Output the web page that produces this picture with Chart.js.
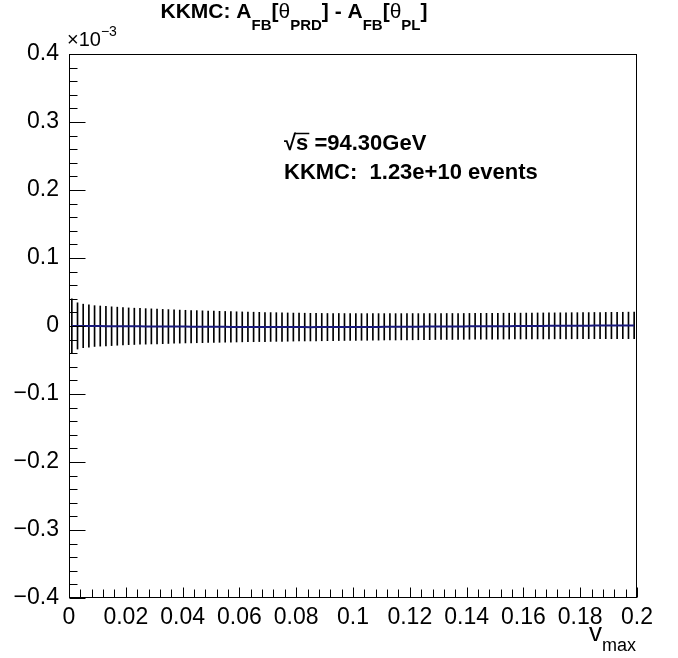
<!DOCTYPE html>
<html>
<head>
<meta charset="utf-8">
<script src="https://cdn.jsdelivr.net/npm/chart.js@4"></script>
<style>
  body { margin: 0; background: #fff; }
</style>
</head>
<body>
<canvas id="afb-chart" width="678" height="658"></canvas>
<script>
/* A_FB[theta_PRD] - A_FB[theta_PL], units of 1e-3 */
const binLow = 0;
const binWidth = 0.002;

const diffValues = [
   0.0000,  0.0001,  0.0001,  0.0000, -0.0001, -0.0001, -0.0002, -0.0003, -0.0003, -0.0004,
  -0.0004, -0.0005, -0.0005, -0.0006, -0.0006, -0.0007, -0.0008, -0.0008, -0.0008, -0.0009,
  -0.0009, -0.0010, -0.0010, -0.0011, -0.0011, -0.0012, -0.0012, -0.0012, -0.0013, -0.0013,
  -0.0013, -0.0014, -0.0014, -0.0014, -0.0015, -0.0015, -0.0015, -0.0016, -0.0016, -0.0016,
  -0.0016, -0.0016, -0.0017, -0.0016, -0.0016, -0.0016, -0.0015, -0.0015, -0.0015, -0.0015,
  -0.0014, -0.0014, -0.0014, -0.0013, -0.0013, -0.0012, -0.0012, -0.0012, -0.0011, -0.0011,
  -0.0010, -0.0010, -0.0009, -0.0009, -0.0008, -0.0008, -0.0007, -0.0007, -0.0006, -0.0006,
  -0.0005, -0.0005, -0.0004, -0.0004, -0.0003, -0.0003, -0.0002, -0.0002, -0.0001, -0.0001,
   0.0000,  0.0000,  0.0001,  0.0001,  0.0002,  0.0002,  0.0003,  0.0003,  0.0004,  0.0004,
   0.0005,  0.0005,  0.0006,  0.0006,  0.0007,  0.0007,  0.0008,  0.0008,  0.0009,  0.0009
];

const diffErrors = [
  0.0400, 0.0340, 0.0320, 0.0310, 0.0300, 0.0295, 0.0290, 0.0285, 0.0280, 0.0275,
  0.0270, 0.0267, 0.0264, 0.0261, 0.0258, 0.0255, 0.0252, 0.0249, 0.0246, 0.0243,
  0.0240, 0.0238, 0.0236, 0.0234, 0.0232, 0.0230, 0.0228, 0.0226, 0.0224, 0.0222,
  0.0220, 0.0218, 0.0217, 0.0215, 0.0214, 0.0212, 0.0211, 0.0209, 0.0208, 0.0206,
  0.0205, 0.0204, 0.0203, 0.0202, 0.0201, 0.0200, 0.0199, 0.0199, 0.0198, 0.0197,
  0.0197, 0.0196, 0.0196, 0.0195, 0.0195, 0.0194, 0.0194, 0.0194, 0.0193, 0.0193,
  0.0193, 0.0192, 0.0192, 0.0192, 0.0191, 0.0191, 0.0191, 0.0191, 0.0190, 0.0190,
  0.0190, 0.0190, 0.0190, 0.0190, 0.0190, 0.0190, 0.0190, 0.0190, 0.0190, 0.0190,
  0.0190, 0.0190, 0.0191, 0.0191, 0.0191, 0.0191, 0.0191, 0.0192, 0.0192, 0.0192,
  0.0192, 0.0192, 0.0193, 0.0193, 0.0193, 0.0194, 0.0194, 0.0194, 0.0195, 0.0195
];

const xTickValues = [0, 0.02, 0.04, 0.06, 0.08, 0.1, 0.12, 0.14, 0.16, 0.18, 0.2];
const yTickValues = [-0.4, -0.3, -0.2, -0.1, 0, 0.1, 0.2, 0.3, 0.4];

const FONT = '"Liberation Sans", Arial, Helvetica, sans-serif';

const centers = diffValues.map((v, i) => binLow + (i + 0.5) * binWidth);

// draws a run of text pieces: [text, font, dy]
function drawPieces(ctx, pieces, x, y, align) {
  let widths = pieces.map(p => { ctx.font = p[1]; return ctx.measureText(p[0]).width; });
  let total = widths.reduce((a, b) => a + b, 0);
  let cx = align === 'center' ? x - total / 2 : x;
  const pos = [];
  pieces.forEach((p, i) => {
    ctx.font = p[1];
    ctx.fillText(p[0], cx, y + (p[2] || 0));
    pos.push(cx);
    cx += widths[i];
  });
  return pos;
}

const rootFrame = {
  id: 'rootFrame',
  afterDatasetsDraw(chart) {
    const {ctx, chartArea: a, scales: {x, y}} = chart;
    ctx.save();
    ctx.strokeStyle = '#000';
    ctx.lineWidth = 1;
    const L = Math.round(a.left) + 0.5, R = Math.round(a.right) - 0.5;
    const T = Math.round(a.top) + 0.5, B = Math.round(a.bottom) - 0.5;
    ctx.strokeRect(L, T, R - L, B - T);
    ctx.beginPath();
    // y ticks (inside, on the left)
    for (let k = -20; k <= 20; k++) {
      const py = Math.round(y.getPixelForValue(k * 0.02)) + 0.5;
      const len = k % 5 === 0 ? 16 : 8;
      ctx.moveTo(L, py); ctx.lineTo(L + len, py);
    }
    // x ticks (inside, on the bottom)
    for (let k = 0; k <= 50; k++) {
      const px = Math.round(x.getPixelForValue(k * 0.004)) + 0.5;
      const len = k % 5 === 0 ? 10 : 8;
      ctx.moveTo(px, B); ctx.lineTo(px, B - len);
    }
    ctx.stroke();

    ctx.fillStyle = '#000';
    ctx.textBaseline = 'alphabetic';
    ctx.textAlign = 'left';
    const big = 'bold 21px ' + FONT, sub = 'bold 15px ' + FONT, sym = '21px ' + FONT;
    drawPieces(ctx, [
      ['KKMC: A', big], ['FB', sub, 12], ['[', big], ['θ', sym], ['PRD', sub, 12], ['] - A', big],
      ['FB', sub, 12], ['[', big], ['θ', sym], ['PL', sub, 12], [']', big]
    ], 294, 18, 'center');

    // sqrt(s) and event count
    const stat = 'bold 22px ' + FONT;
    const p = drawPieces(ctx, [['√', stat], ['s', stat], [' =94.30GeV', stat]], 284, 150, 'left');
    ctx.font = stat;
    const sw = ctx.measureText('s').width;
    ctx.beginPath();
    ctx.lineWidth = 1.5;
    ctx.moveTo(p[1] - 1, 133.5); ctx.lineTo(p[1] + sw + 1, 133.5);
    ctx.stroke();
    ctx.fillText('KKMC:  1.23e+10 events', 284, 179);

    // exponent and axis title
    drawPieces(ctx, [['×10', '20px ' + FONT], ['−3', '14px ' + FONT, -10]], 67, 46, 'left');
    drawPieces(ctx, [['v', '26px ' + FONT], ['max', '18px ' + FONT, 10]], 589, 641, 'left');
    ctx.restore();
  }
};

const config = {
  type: 'bar',
  data: {
    datasets: [
      {
        type: 'line',
        data: centers.map((c, i) => ({x: c, y: diffValues[i]})),
        borderColor: 'rgb(25, 25, 125)',
        borderWidth: 2,
        pointRadius: 0,
        tension: 0,
        order: 0
      },
      {
        type: 'bar',
        data: centers.map((c, i) => ({x: c, y: [diffValues[i] - diffErrors[i], diffValues[i] + diffErrors[i]]})),
        backgroundColor: '#000',
        borderWidth: 0,
        barThickness: 1,
        grouped: false,
        order: 1
      }
    ]
  },
  options: {
    responsive: false,
    animation: false,
    layout: { padding: { left: 0, right: 41, top: 54, bottom: 0 } },
    plugins: {
      legend: { display: false },
      tooltip: { enabled: false },
      title: { display: false }
    },
    scales: {
      x: {
        type: 'linear',
        min: 0,
        max: 0.2,
        offset: false,
        grid: { display: false, drawTicks: false },
        border: { display: false },
        afterBuildTicks: s => { s.ticks = xTickValues.map(v => ({value: v})); },
        afterFit: s => { s.height = 60; },
        ticks: {
          autoSkip: false,
          maxRotation: 0,
          padding: 6,
          color: '#000',
          font: { family: FONT, size: 23 },
          callback: v => v === 0 ? '0' : String(parseFloat(v.toFixed(3)))
        }
      },
      y: {
        min: -0.4,
        max: 0.4,
        grid: { display: false, drawTicks: false },
        border: { display: false },
        afterBuildTicks: s => { s.ticks = yTickValues.map(v => ({value: v})); },
        afterFit: s => { s.width = 69; },
        ticks: {
          padding: 10,
          color: '#000',
          font: { family: FONT, size: 23 },
          callback: v => Math.abs(v) < 1e-9 ? '0' : (v < 0 ? '−' : '') + Math.abs(v).toFixed(1)
        }
      }
    }
  },
  plugins: [rootFrame]
};

const afbChart = new Chart(document.getElementById('afb-chart'), config);
</script>
</body>
</html>
